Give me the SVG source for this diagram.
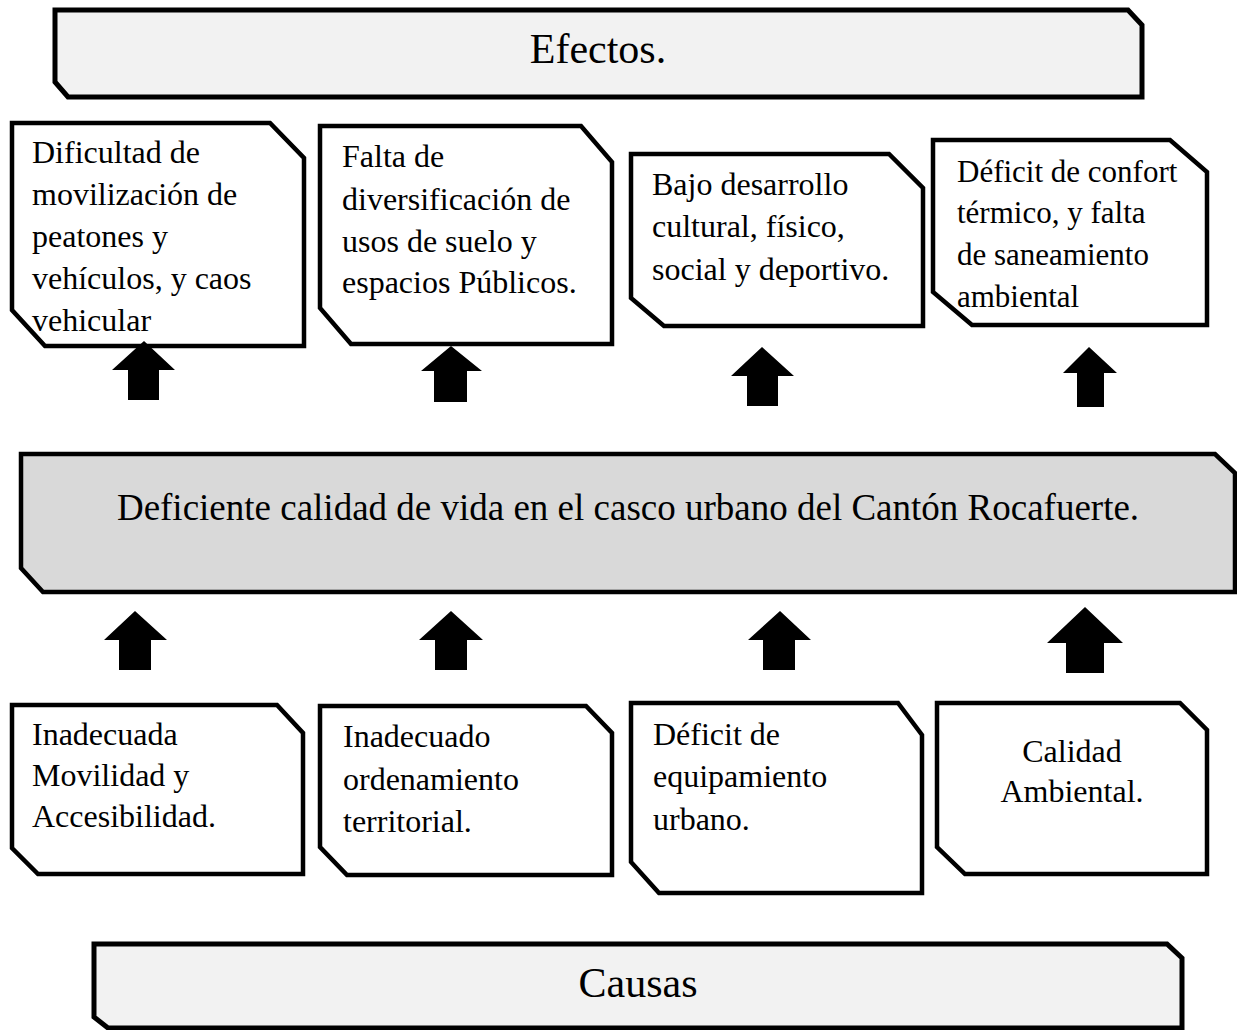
<svg xmlns="http://www.w3.org/2000/svg" width="1237" height="1030" viewBox="0 0 1237 1030">
<style>
.bx{fill:#ffffff;stroke:#000;stroke-width:4.5;stroke-linejoin:miter}
.ban{fill:#f2f2f2;stroke:#000;stroke-width:5}
.core{fill:#d9d9d9;stroke:#000;stroke-width:4.5}
.t{font-family:"Liberation Serif","Times New Roman",serif;font-size:32px;fill:#000}
.big{font-family:"Liberation Serif","Times New Roman",serif;font-size:42px;fill:#000;text-anchor:middle}
.mid{font-family:"Liberation Serif","Times New Roman",serif;font-size:37px;fill:#000;text-anchor:middle}
.ar{fill:#000}
</style>
<rect width="1237" height="1030" fill="#ffffff"/>
<g id="efectos">
<path class="ban" d="M55,10 H1128 L1142,25 V97 H68 L55,82 Z"/>
<text class="big" x="598" y="63">Efectos.</text>
</g>
<g id="efecto1">
<path class="bx" d="M12,123 H270 L304,158 V346 H45 L12,310 Z"/>
<text class="t" x="32" y="163">Dificultad de</text>
<text class="t" x="32" y="205">movilización de</text>
<text class="t" x="32" y="247">peatones y</text>
<text class="t" x="32" y="289">vehículos, y caos</text>
<text class="t" x="32" y="331">vehicular</text>
</g>
<g id="efecto2">
<path class="bx" d="M320,126 H581 L612,162 V344 H351 L320,308 Z"/>
<text class="t" x="342" y="167">Falta de</text>
<text class="t" x="342" y="210">diversificación de</text>
<text class="t" x="342" y="252">usos de suelo y</text>
<text class="t" x="342" y="293">espacios Públicos.</text>
</g>
<g id="efecto3">
<path class="bx" d="M631,154 H889 L923,188 V326 H664 L631,298 Z"/>
<text class="t" x="652" y="195">Bajo desarrollo</text>
<text class="t" x="652" y="237">cultural, físico,</text>
<text class="t" x="652" y="280">social y deportivo.</text>
</g>
<g id="efecto4">
<path class="bx" d="M933,140 H1170 L1207,172 V325 H972 L933,292 Z"/>
<text class="t" x="957" y="182" style="font-size:31px">Déficit de confort</text>
<text class="t" x="957" y="223" style="font-size:31px">térmico, y falta</text>
<text class="t" x="957" y="265" style="font-size:31px">de saneamiento</text>
<text class="t" x="957" y="307" style="font-size:31px">ambiental</text>
</g>
<g id="problema">
<path class="core" d="M21,454 H1215 L1235,473 V592 H43 L21,568 Z"/>
<text class="mid" x="628" y="520">Deficiente calidad de vida en el casco urbano del Cantón Rocafuerte.</text>
</g>
<g id="causa1">
<path class="bx" d="M12,705 H277 L303,733 V874 H38 L12,848 Z"/>
<text class="t" x="32" y="745">Inadecuada</text>
<text class="t" x="32" y="786">Movilidad y</text>
<text class="t" x="32" y="827">Accesibilidad.</text>
</g>
<g id="causa2">
<path class="bx" d="M320,706 H586 L612,733 V875 H347 L320,847 Z"/>
<text class="t" x="343" y="747">Inadecuado</text>
<text class="t" x="343" y="790">ordenamiento</text>
<text class="t" x="343" y="832">territorial.</text>
</g>
<g id="causa3">
<path class="bx" d="M631,703 H898 L922,735 V893 H659 L631,862 Z"/>
<text class="t" x="653" y="745">Déficit de</text>
<text class="t" x="653" y="787">equipamiento</text>
<text class="t" x="653" y="830">urbano.</text>
</g>
<g id="causa4">
<path class="bx" d="M937,703 H1180 L1207,730 V874 H965 L937,847 Z"/>
<text class="t" x="1072" y="762" text-anchor="middle">Calidad</text>
<text class="t" x="1072" y="802" text-anchor="middle">Ambiental.</text>
</g>
<g id="causas">
<path class="ban" d="M94,944 H1167 L1182,958 V1028 H108 L94,1017 Z"/>
<text class="big" x="638" y="997">Causas</text>
</g>
<g id="connectors">
<polygon class="ar" points="144,341 175,370 159,370 159,400 128,400 128,370 112,370"/>
<polygon class="ar" points="451,346 482,371 467,371 467,402 434,402 434,371 421,371"/>
<polygon class="ar" points="762,347 794,376 778,376 778,406 747,406 747,376 731,376"/>
<polygon class="ar" points="1089,347 1117,373 1104,373 1104,407 1077,407 1077,373 1063,373"/>
<polygon class="ar" points="135,611 167,640 151,640 151,670 119,670 119,640 104,640"/>
<polygon class="ar" points="451,611 483,640 467,640 467,670 435,670 435,640 419,640"/>
<polygon class="ar" points="780,611 811,640 795,640 795,670 763,670 763,640 748,640"/>
<polygon class="ar" points="1085,607 1123,643 1104,643 1104,673 1066,673 1066,643 1047,643"/>
</g>
</svg>
